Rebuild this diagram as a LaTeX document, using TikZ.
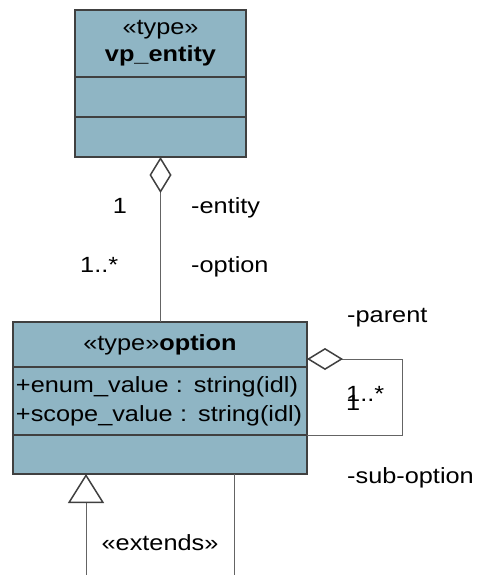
\documentclass[tikz,border=0pt]{standalone}
\usepackage{fontspec}
\setmainfont{Liberation Sans}[FakeStretch=1.15]
\usetikzlibrary{arrows.meta,positioning}
\definecolor{umlFill}{RGB}{143,181,196}
\definecolor{umlEdge}{RGB}{64,64,64}
\definecolor{umlLine}{RGB}{100,100,100}
\newcommand{\umlfont}{\fontsize{22}{29}\selectfont}
\tikzset{
  compart/.style={draw=umlEdge,fill=umlFill,line width=1.6pt,outer sep=0pt,inner sep=3pt,font=\umlfont},
  assoc/.style={draw=umlLine,line width=0.9pt},
  role/.style={font=\umlfont,inner sep=0pt},
}

\begin{document}
\begin{tikzpicture}[x=1pt,y=-1pt]
\useasboundingbox (0,0) rectangle (477,575);
\node[compart,anchor=north,minimum width=171pt,minimum height=67pt,align=center] (ent-head) at (160.5,10) {\raisebox{-2pt}{«type»}\\\textbf{vp\_entity}};
\node[compart,minimum width=171pt,minimum height=40pt,below=0pt of ent-head] (ent-attr) {};
\node[compart,minimum width=171pt,minimum height=40pt,below=0pt of ent-attr] (ent-ops) {};

\node[compart,anchor=north,minimum width=294pt,minimum height=45pt] (opt-head) at (160,322) {«type»\textbf{option}};
\node[compart,minimum width=294pt,minimum height=68pt,text width=288pt,align=left,below=0pt of opt-head] (opt-attr) {+enum\_value : string(idl)\\+scope\_value : string(idl)};
\node[compart,minimum width=294pt,minimum height=39pt,below=0pt of opt-attr] (opt-ops) {};

\draw[assoc,{Diamond[open,length=36pt,width=22pt,line width=1.5pt,color=umlEdge,fill=white]}-] (ent-ops.south) -- (ent-ops.south |- opt-head.north);
\node[role,anchor=base] (ent-mult) at (120,213) {1};
\node[role,anchor=base west] (ent-name) at (191,213) {-entity};
\node[role,anchor=base west] (opt-mult) at (80,272) {1..*};
\node[role,anchor=base west] (opt-name) at (191,272) {-option};

\draw[assoc,{Diamond[open,length=36pt,width=22pt,line width=1.5pt,color=umlEdge,fill=white]}-] ([yshift=-14.5pt]opt-head.east) -- ++(95,0) |- (opt-attr.south east);
\node[role,anchor=base west] (parent-name) at (347,322) {-parent};
\node[role,anchor=base west] (parent-mult) at (346,410) {1};
\node[role,anchor=base west] (sub-mult) at (346,401) {1..*};
\node[role,anchor=base west] (sub-name) at (347,483) {-sub-option};

\coordinate (ext-end) at (86,575);
\coordinate (sub-end) at (234,575);
\draw[assoc,-{Triangle[open,length=29pt,width=36pt,line width=1.5pt,color=umlEdge,fill=white]}] (ext-end) -- (ext-end |- opt-ops.south);
\draw[assoc] (sub-end |- opt-ops.south) -- (sub-end);
\node[role,anchor=base] (ext-label) at (160,550) {«extends»};
\end{tikzpicture}
\end{document}
